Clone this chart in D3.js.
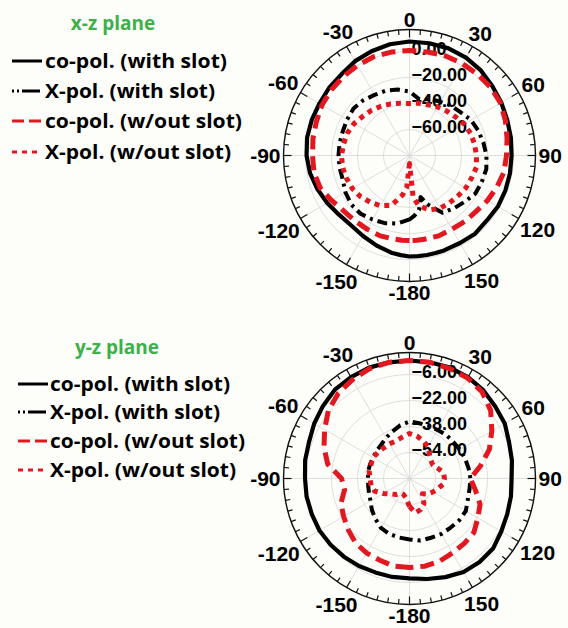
<!DOCTYPE html>
<html>
<head>
<meta charset="utf-8">
<script src="https://cdn.jsdelivr.net/npm/d3@7"></script>
<style>
  body { margin: 0; background: #fdfdf9; }
  svg { display: block; }
</style>
</head>
<body>
<script>
// ---- data (dB), angle 0 = top, clockwise positive ----
var anglesXZ = [-180, -175, -170, -160, -150, -140, -130, -120, -110, -100, -90, -80, -70, -60, -50, -40, -30, -20, -10,
  0, 10, 20, 30, 40, 50, 60, 70, 80, 90, 100, 110, 120, 130, 140, 150, 160, 165, 170, 175];
var xzCoWith = [-2.3, -3.1, -3.8, -6.2, -8.5, -10.0, -9.2, -6.9, -4.6, -2.3, -0.8, 0, 0, 0, 0.8, 1.5, 3.8, 5.4, 6.9,
  7.7, 7.7, 7.7, 6.9, 5.4, 3.1, 1.5, 0, -0.8, -1.5, -1.5, -1.5, -1.5, -2.3, -1.5, -2.3, -2.3, -2.3, -2.3, -2.3];
var xzXWith = [-30.8, -29.2, -26.9, -24.6, -23.1, -21.5, -21.5, -23.1, -25.4, -25.4, -25.4, -25.4, -25.4, -24.6, -23.8, -24.6, -26.2, -26.9, -28.5,
  -30.8, -36.2, -33.8, -32.3, -30.0, -28.5, -25.4, -23.8, -22.3, -20.8, -20.0, -20.8, -21.5, -24.6, -26.9, -29.2, -40.0, -46.9, -37.7, -33.8];
var xzCoWithout = [-14.6, -14.6, -14.6, -14.2, -14.6, -14.6, -13.8, -10.8, -6.9, -5.4, -5.4, -4.6, -3.8, -2.3, -1.5, -0.8, 0, 0.8, 0.8,
  0.8, 0.8, 1.5, 1.5, 1.5, 1.5, 0.8, -1.5, -3.8, -5.4, -6.2, -8.5, -10.8, -13.1, -13.8, -14.6, -14.2, -14.6, -14.6, -14.6];
var xzXWithout = [-73.8, -55.4, -49.2, -39.2, -35.4, -33.1, -30.8, -29.2, -28.5, -27.7, -27.7, -28.5, -29.2, -30.8, -33.1, -34.6, -36.2, -37.7, -39.2,
  -40.0, -39.2, -38.5, -36.9, -35.4, -33.8, -31.5, -30.0, -29.2, -28.5, -27.7, -29.2, -30.0, -31.5, -32.3, -33.1, -35.4, -38.5, -41.5, -47.7];

var anglesYZ = [-180, -170, -160, -150, -140, -130, -120, -110, -100, -90, -80, -70, -60, -50, -40, -30, -20, -10,
  0, 10, 20, 30, 40, 50, 60, 70, 80, 90, 100, 110, 120, 130, 140, 150, 160, 170];
var yzCoWith = [-8.5, -8.5, -8.5, -7.8, -7.2, -6.6, -6.0, -6.0, -5.7, -5.7, -4.8, -4.2, -2.3, -0.5, 1.4, 2.0, 2.6, 2.6,
  2.6, 2.6, 2.6, 2.0, 0.8, -1.1, -2.3, -4.8, -6.0, -7.2, -6.6, -6.0, -4.8, -2.9, -2.9, -3.5, -5.4, -7.2];
var yzXWith = [-32.5, -33.1, -33.7, -34.9, -37.4, -39.8, -42.3, -43.5, -44.2, -44.5, -44.2, -44.2, -44.2, -43.5, -42.9, -41.1, -39.2, -36.8,
  -34.9, -35.5, -35.5, -35.5, -34.9, -34.9, -34.3, -33.7, -33.1, -32.5, -32.5, -31.8, -30.0, -30.0, -30.6, -30.6, -31.2, -31.2];
var yzCoWithout = [-15.2, -15.2, -16.5, -17.1, -18.3, -20.8, -23.2, -25.1, -29.4, -28.2, -18.9, -14.0, -9.7, -4.8, -1.7, 0.2, 2.0, 2.6,
  2.6, 2.6, 2.0, 1.4, -0.5, -4.8, -11.5, -17.7, -25.7, -32.5, -28.8, -23.8, -21.4, -18.3, -17.7, -17.1, -15.8, -15.2];
var yzXWithout = [-52.8, -57.7, -59.5, -59.5, -57.1, -55.2, -51.5, -47.2, -46.0, -45.7, -44.8, -44.8, -44.2, -44.8, -45.4, -45.4, -45.4, -44.2,
  -42.3, -43.5, -45.4, -47.2, -50.9, -52.8, -53.4, -51.5, -48.8, -48.5, -49.1, -51.5, -53.4, -55.2, -57.7, -52.2, -49.7, -48.5];

var xzRings = [0, -20, -40, -60];
var yzRings = [-6, -22, -38, -54];
var angleTicks = [0, 30, 60, 90, 120, 150, -180, -150, -120, -90, -60, -30];
var seriesNames = ["co-pol. (with slot)", "X-pol. (with slot)", "co-pol. (w/out slot)", "X-pol. (w/out slot)"];

// ---- styles ----
var red = "#e3171f";
var styles = [
  { color: "#000", width: 4.2, dash: null },
  { color: "#000", width: 4, dash: "10,5,3,5" },
  { color: red, width: 5, dash: "14,7" },
  { color: red, width: 5, dash: "5,5" }
];

var svg = d3.select("body").append("svg")
  .attr("width", 568)
  .attr("height", 628);

var outerR = 126, ringR = 104;

function drawPolar(cx, cy, angles, seriesList, rings, centerVal) {
  var g = svg.append("g").attr("transform", "translate(" + cx + "," + cy + ")");
  var r = d3.scaleLinear().domain([centerVal, rings[0]]).range([0, ringR]);
  var rad = function(a) { return a * Math.PI / 180; };

  // grid rings + spokes
  g.selectAll(".ring").data(rings).enter().append("circle")
    .attr("r", function(d) { return r(d); })
    .attr("fill", "none").attr("stroke", "#d6d6d6").attr("stroke-width", 0.8);
  g.selectAll(".spoke").data(angleTicks).enter().append("line")
    .attr("x1", 0).attr("y1", 0)
    .attr("x2", function(d) { return outerR * Math.sin(rad(d)); })
    .attr("y2", function(d) { return -outerR * Math.cos(rad(d)); })
    .attr("stroke", "#d6d6d6").attr("stroke-width", 0.8);

  // outer circle with inward ticks
  g.append("circle").attr("r", outerR)
    .attr("fill", "none").attr("stroke", "#111").attr("stroke-width", 1.4);
  g.selectAll(".tick").data(d3.range(0, 360, 5)).enter().append("line")
    .attr("x1", function(d) { return outerR * Math.sin(rad(d)); })
    .attr("y1", function(d) { return -outerR * Math.cos(rad(d)); })
    .attr("x2", function(d) { var l = d % 30 === 0 ? 8 : 5; return (outerR - l) * Math.sin(rad(d)); })
    .attr("y2", function(d) { var l = d % 30 === 0 ? 8 : 5; return -(outerR - l) * Math.cos(rad(d)); })
    .attr("stroke", "#111").attr("stroke-width", 1.2);

  // angle labels, pushed out by their own box size
  g.selectAll(".alab").data(angleTicks).enter().append("text")
    .text(function(d) { return d; })
    .attr("font-family", "Liberation Sans, Arial, sans-serif")
    .attr("font-weight", "bold").attr("font-size", 21)
    .attr("text-anchor", "middle").attr("dominant-baseline", "central")
    .each(function(d) {
      var w = this.getComputedTextLength(), h = 15;
      var s = Math.sin(rad(d)), c = Math.cos(rad(d));
      var R = outerR + 3 + Math.abs(s) * w / 2 + Math.abs(c) * h / 2;
      d3.select(this).attr("x", R * s).attr("y", -R * c);
    });

  // ring value labels
  g.selectAll(".rlab").data(rings).enter().append("text")
    .text(function(d) { return d3.format(".2f")(d); })
    .attr("x", 2)
    .attr("y", function(d) { return -r(d) - 3; })
    .attr("font-family", "Liberation Sans, Arial, sans-serif")
    .attr("font-weight", "bold").attr("font-size", 18)
    .attr("dominant-baseline", "central");

  // traces
  var line = d3.lineRadial()
    .angle(function(d) { return rad(d[0]); })
    .radius(function(d) { return Math.max(0, r(d[1])); })
    .curve(d3.curveLinearClosed);
  seriesList.forEach(function(vals, i) {
    var st = styles[i];
    g.append("path")
      .datum(angles.map(function(a, k) { return [a, vals[k]]; }))
      .attr("d", line)
      .attr("fill", "none")
      .attr("stroke", st.color)
      .attr("stroke-width", st.width)
      .attr("stroke-dasharray", st.dash)
      .attr("stroke-linejoin", "round");
  });
}

function drawLegend(title, titleX, titleY, rows, lineX, textX, widths) {
  svg.append("text").text(title)
    .attr("x", titleX).attr("y", titleY)
    .attr("text-anchor", "middle").attr("dominant-baseline", "central")
    .attr("font-family", "Open Sans, Liberation Sans, sans-serif")
    .attr("font-weight", "bold").attr("font-size", 19)
    .attr("fill", "#3cb04a");
  var sampleDash = [null, "2,3,2,3,18", "12,5", "5,5"];
  rows.forEach(function(y, i) {
    svg.append("line")
      .attr("x1", lineX[0]).attr("x2", lineX[1])
      .attr("y1", y).attr("y2", y)
      .attr("stroke", styles[i].color)
      .attr("stroke-width", 3)
      .attr("stroke-dasharray", sampleDash[i]);
    svg.append("text").text(seriesNames[i])
      .attr("x", textX).attr("y", y)
      .attr("dominant-baseline", "central")
      .attr("font-family", "Open Sans, Liberation Sans, sans-serif")
      .attr("font-weight", "bold").attr("font-size", 19)
      .attr("textLength", widths[i]).attr("lengthAdjust", "spacingAndGlyphs")
      .attr("fill", "#000");
  });
}

drawPolar(409.5, 155.5, anglesXZ, [xzCoWith, xzXWith, xzCoWithout, xzXWithout], xzRings, -80);
drawPolar(409.5, 478.5, anglesYZ, [yzCoWith, yzXWith, yzCoWithout, yzXWithout], yzRings, -70);

drawLegend("x-z plane", 113, 23, [61, 91, 121, 152], [12, 42], 45, [182, 170, 197, 186]);
drawLegend("y-z plane", 117, 347, [384, 412, 441, 470], [18, 48], 50, [180, 170, 195, 186]);
</script>
</body>
</html>
